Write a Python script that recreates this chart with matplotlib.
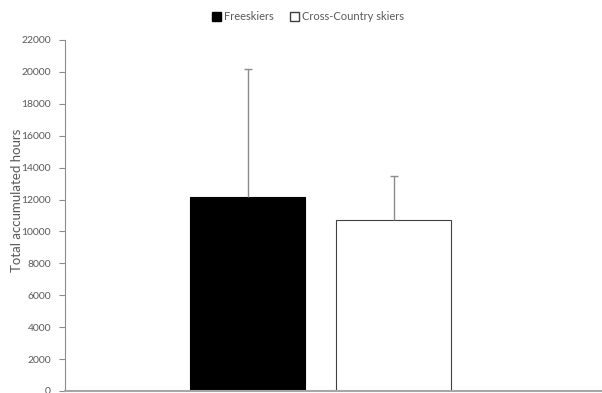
import matplotlib
matplotlib.use("Agg")
import matplotlib.pyplot as plt
from matplotlib.patches import Patch

# data
groups = ["Freeskiers", "Cross-Country skiers"]
means = [12150, 10700]
errors = [8050, 2780]
colors = ["black", "white"]
yticks = list(range(0, 22001, 2000))

plt.rcParams['font.family'] = ['Lato', 'DejaVu Sans']

fig = plt.figure(figsize=(6.02, 3.93), dpi=100)
ax = fig.add_axes([65 / 602, 2 / 393, (602 - 65) / 602, (391 - 40) / 393])

pos = [0, 1]
ax.bar(pos, means, width=0.788, color=colors, edgecolor=["black", "#404040"],
       linewidth=0.8, zorder=2)
eb = ax.errorbar(pos, means, yerr=[[0, 0], errors], fmt='none', ecolor="#8c8c8c",
                 elinewidth=1, capsize=3, capthick=1, zorder=3)
# only the upper cap is drawn in the original
eb[1][0].set_visible(False)

ax.set_ylim(0, 22000)
ax.set_xlim(-1.25, 2.428)
ax.set_yticks(yticks)
ax.set_yticklabels([str(t) for t in yticks], fontsize=7.5, color="#595959")
ax.set_xticks([])
ax.tick_params(axis='y', direction='out', length=4, color="#8c8c8c", width=0.8, pad=6)

for s in ["top", "right"]:
    ax.spines[s].set_visible(False)
ax.spines["left"].set_color("#8c8c8c")
ax.spines["left"].set_linewidth(0.8)
ax.spines["bottom"].set_color("#a6a6a6")
ax.spines["bottom"].set_linewidth(1.5)

ax.set_ylabel("Total accumulated hours", fontsize=9.5, color="#595959")
ax.yaxis.set_label_coords(-42 / 537, (391 - 200) / 351)

handles = [Patch(facecolor="black", edgecolor="black", label=groups[0]),
           Patch(facecolor="white", edgecolor="#404040", label=groups[1])]
fig.legend(handles=handles, loc="center", bbox_to_anchor=(308 / 602, 1 - 17 / 393),
           ncol=2, frameon=False, fontsize=8, handlelength=0.8, handleheight=0.8,
           handletextpad=0.3, columnspacing=1.4, labelcolor="#595959")

fig.savefig("out.png", dpi=100)
